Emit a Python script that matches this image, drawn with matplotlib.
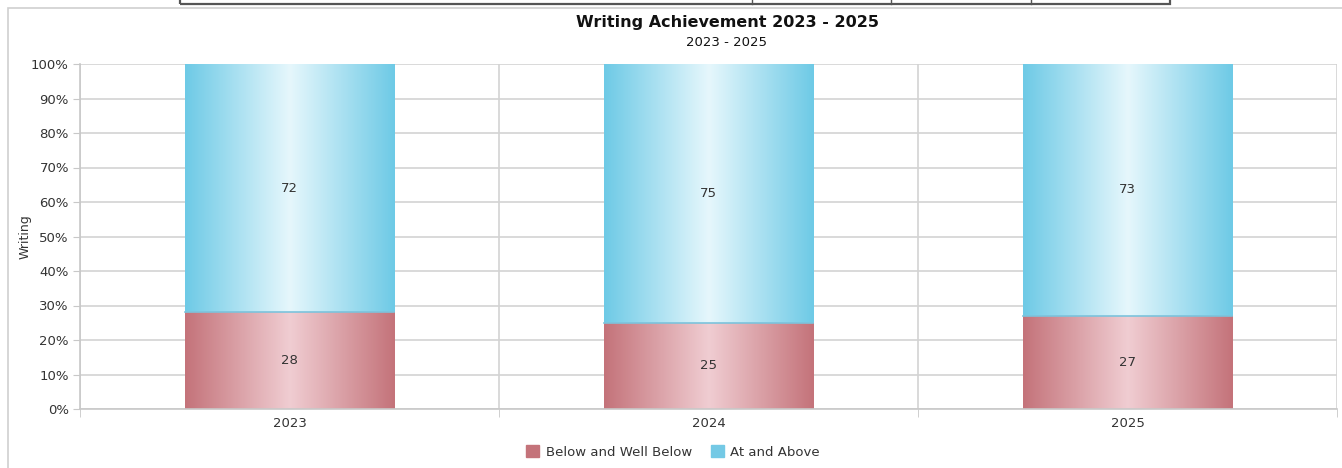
import numpy as np
import matplotlib
matplotlib.use("Agg")
import matplotlib.pyplot as plt
from matplotlib.colors import LinearSegmentedColormap
from matplotlib.patches import Rectangle
from matplotlib.lines import Line2D

# Writing achievement shares per year
years = ["2023", "2024", "2025"]
below = [28, 25, 27]
at_above = [72, 75, 73]
series_names = ["Below and Well Below", "At and Above"]

red_edge, red_mid = "#c4737a", "#f0cdd2"
blue_edge, blue_mid = "#6ecae6", "#e6f7fc"

plt.rcParams["font.family"] = "DejaVu Sans"

fig = plt.figure(figsize=(13.42, 4.68), dpi=100)
W, H = 1342, 468

# frame around the chart and the table stub above it
fig.patches.append(Rectangle((8 / W, -0.1), 1.2, 1 - 8 / H + 0.1, transform=fig.transFigure,
                             fill=False, edgecolor="#cfcfcf", lw=1.2))
fig.patches.append(Rectangle((180 / W, 1 - 4 / H), (1170 - 180) / W, 0.1,
                             transform=fig.transFigure, fill=False, edgecolor="#555555", lw=1.6))
for xd in [752, 891, 1031]:
    fig.lines.append(Line2D([xd / W, xd / W], [1 - 4 / H, 1.0], transform=fig.transFigure,
                            color="#555555", lw=1.0))

ax = fig.add_axes([80 / W, 1 - 409 / H, 1257 / W, 345 / H])
x = np.arange(len(years))
width = 0.5


def gradient_fill(bars, edge, mid):
    cmap = LinearSegmentedColormap.from_list("g", [edge, mid, edge])
    grad = np.linspace(0, 1, 256).reshape(1, -1)
    for b in bars:
        bx, by = b.get_x(), b.get_y()
        bw, bh = b.get_width(), b.get_height()
        im = ax.imshow(grad, cmap=cmap, aspect="auto", extent=[bx, bx + bw, by, by + bh],
                       zorder=2, interpolation="bicubic")
        im.set_clip_path(b)


bars_below = ax.bar(x, below, width, color=red_edge, edgecolor="none", zorder=1)
bars_above = ax.bar(x, at_above, width, bottom=below, color=blue_edge, edgecolor="none", zorder=1)
gradient_fill(bars_below, red_edge, red_mid)
gradient_fill(bars_above, blue_edge, blue_mid)

# thin boundary between the stacked segments
for xi, b in zip(x, below):
    ax.plot([xi - width / 2, xi + width / 2], [b, b], color="#7cc3dc", lw=1.2, zorder=3)

for xi, b, a in zip(x, below, at_above):
    ax.text(xi, b / 2, str(b), ha="center", va="center", fontsize=9.5, color="#333333", zorder=4)
    ax.text(xi, b + a / 2, str(a), ha="center", va="center", fontsize=9.5, color="#333333", zorder=4)

ax.set_xlim(-0.5, len(years) - 0.5)
ax.set_ylim(0, 100)
ax.set_yticks(np.arange(0, 101, 10))
ax.set_yticklabels([f"{v}%" for v in range(0, 101, 10)])
ax.set_xticks(x)
ax.set_xticklabels(years)
ax.set_xticks(np.arange(-0.5, len(years), 1), minor=True)

ax.grid(axis="y", color="#d3d3d3", lw=1.2, zorder=0)
ax.grid(axis="x", which="minor", color="#d3d3d3", lw=1.2, zorder=0)
ax.set_axisbelow(True)

for s in ["top", "right"]:
    ax.spines[s].set_visible(False)
ax.spines["left"].set_color("#c8c8c8")
ax.spines["bottom"].set_color("#c8c8c8")
ax.spines["left"].set_linewidth(1.2)
ax.spines["bottom"].set_linewidth(1.2)

ax.tick_params(axis="y", length=5, color="#c8c8c8", labelsize=9.5, labelcolor="#333333", pad=3)
ax.tick_params(axis="x", which="major", length=0, labelsize=9.5, labelcolor="#333333", pad=6)
ax.tick_params(axis="x", which="minor", length=6, color="#c8c8c8")

fig.text(25 / W, 1 - 237 / H, "Writing", rotation=90, ha="center", va="center",
         fontsize=9, color="#333333")

fig.text(727 / W, 1 - 23 / H, "Writing Achievement 2023 - 2025", ha="center", va="center",
         fontsize=11.5, fontweight="bold", color="#111111")
fig.text(727 / W, 1 - 43 / H, "2023 - 2025", ha="center", va="center", fontsize=9.5, color="#111111")

handles = [Rectangle((0, 0), 1, 1, color=red_edge), Rectangle((0, 0), 1, 1, color="#74c9e5")]
fig.legend(handles, series_names, loc="center", bbox_to_anchor=(673 / W, 1 - 452 / H), ncol=2,
           frameon=False, fontsize=9.5, handlelength=1.0, handleheight=1.0, handletextpad=0.5,
           columnspacing=1.4, labelcolor="#333333")

fig.savefig("out.png", dpi=100)
